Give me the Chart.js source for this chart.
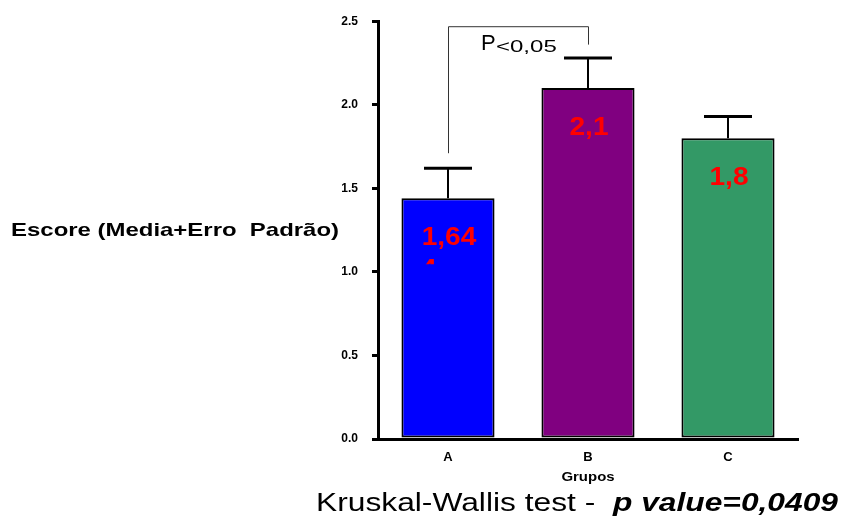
<!DOCTYPE html>
<html>
<head>
<meta charset="utf-8">
<script src="https://cdn.jsdelivr.net/npm/chart.js@4.4.1/dist/chart.umd.min.js"></script>
<style>
  html, body { margin: 0; padding: 0; background: #fff; }
  #wrap { width: 843px; height: 519px; }
</style>
</head>
<body>
<div id="wrap"><canvas id="chart" width="843" height="519"></canvas></div>
<script>
// scores per group (mean and mean + standard error)
const groups = ['A', 'B', 'C'];
const means = [1.44, 2.1, 1.8];
const errorTops = [1.62, 2.28, 1.93];
const barLabels = ['1,64', '2,1', '1,8'];
const barColors = ['#0000ff', '#800080', '#339966'];
const yTicks = [0, 0.5, 1.0, 1.5, 2.0, 2.5];
// A vs B bracket, in axis units: left foot, top, right foot
const bracket = [1.71, 2.47, 2.36];

const FONT = '"Liberation Sans", Arial, Helvetica, sans-serif';

// text drawn a bit wider than the font's natural width
function wideText(ctx, text, x, y, sx, align) {
  ctx.save();
  ctx.translate(x, y);
  ctx.scale(sx, 1);
  ctx.textAlign = align;
  ctx.fillText(text, 0, 0);
  ctx.restore();
}

const annotations = {
  id: 'annotations',
  afterDatasetsDraw(chart) {
    const ctx = chart.ctx;
    const x = chart.scales.x;
    const y = chart.scales.y;
    ctx.save();

    // error bars
    ctx.strokeStyle = '#000';
    groups.forEach((g, i) => {
      const cx = x.getPixelForValue(i);
      const top = y.getPixelForValue(errorTops[i]);
      const bar = y.getPixelForValue(means[i]);
      ctx.lineWidth = 2;
      ctx.beginPath();
      ctx.moveTo(cx, bar);
      ctx.lineTo(cx, top);
      ctx.stroke();
      ctx.lineWidth = 3;
      ctx.beginPath();
      ctx.moveTo(cx - 24, top);
      ctx.lineTo(cx + 24, top);
      ctx.stroke();
    });

    // bracket A-B
    const xa = x.getPixelForValue(0);
    const xb = x.getPixelForValue(1);
    ctx.lineWidth = 1;
    ctx.strokeStyle = '#333';
    ctx.beginPath();
    ctx.moveTo(xa + 0.5, y.getPixelForValue(bracket[0]));
    ctx.lineTo(xa + 0.5, y.getPixelForValue(bracket[1]) + 0.5);
    ctx.lineTo(xb + 0.5, y.getPixelForValue(bracket[1]) + 0.5);
    ctx.lineTo(xb + 0.5, y.getPixelForValue(bracket[2]));
    ctx.stroke();

    ctx.fillStyle = '#000';
    ctx.textBaseline = 'alphabetic';
    ctx.font = '22px ' + FONT;
    wideText(ctx, 'P', xa + 33, 50, 1, 'left');
    ctx.font = '16px ' + FONT;
    wideText(ctx, '<0,05', xa + 48, 51.5, 1.5, 'left');

    // value labels inside the bars
    ctx.fillStyle = '#ff0000';
    ctx.font = 'bold 26px ' + FONT;
    groups.forEach((g, i) => {
      const cx = x.getPixelForValue(i);
      wideText(ctx, barLabels[i], cx + 1, y.getPixelForValue(means[i]) + 47, 1.08, 'center');
    });

    // cut-off digit under the first label
    ctx.save();
    ctx.beginPath();
    ctx.rect(xa - 30, y.getPixelForValue(means[0]) + 58, 60, 8);
    ctx.clip();
    wideText(ctx, '4', xa - 27, y.getPixelForValue(means[0]) + 79, 1.08, 'left');
    ctx.restore();

    ctx.restore();
  },
  afterDraw(chart) {
    const ctx = chart.ctx;
    const x = chart.scales.x;
    ctx.save();
    ctx.fillStyle = '#000';

    ctx.textBaseline = 'middle';
    ctx.font = 'bold 19px ' + FONT;
    wideText(ctx, 'Escore (Media+Erro  Padrão)', 339, 231, 1.26, 'right');

    ctx.font = 'bold 13px ' + FONT;
    wideText(ctx, 'Grupos', x.getPixelForValue(1), 477, 1.15, 'center');

    // Kruskal-Wallis line, mixed styles
    ctx.textBaseline = 'alphabetic';
    const sx = 1.27;
    const plain = 'Kruskal-Wallis test -  ';
    const strong = 'p value=0,0409';
    ctx.font = 'bold italic 25px ' + FONT;
    const w2 = ctx.measureText(strong).width * sx;
    ctx.font = '25px ' + FONT;
    const w1 = ctx.measureText(plain).width * sx;
    const start = 838 - w1 - w2;
    wideText(ctx, plain, start, 511, sx, 'left');
    ctx.font = 'bold italic 25px ' + FONT;
    wideText(ctx, strong, start + w1, 511, sx, 'left');

    ctx.restore();
  }
};

new Chart(document.getElementById('chart'), {
  type: 'bar',
  data: {
    labels: groups,
    datasets: [{
      data: means,
      backgroundColor: barColors,
      borderColor: '#000',
      borderWidth: 2,
      borderSkipped: false,
      barPercentage: 0.665,
      categoryPercentage: 1,
    }]
  },
  options: {
    responsive: false,
    animation: false,
    layout: { padding: { left: 318, right: 45, top: 20, bottom: 50 } },
    plugins: {
      legend: { display: false },
      tooltip: { enabled: false },
    },
    scales: {
      x: {
        offset: true,
        grid: { display: false },
        border: { display: true, color: '#000', width: 3 },
        ticks: { color: '#000', padding: 3, font: { family: FONT, size: 13, weight: 'bold' } },
        afterFit: s => { s.height = 30; },
      },
      y: {
        min: 0,
        max: 2.5,
        afterBuildTicks: s => { s.ticks = yTicks.map(v => ({ value: v })); },
        grid: { drawOnChartArea: false, drawTicks: true, tickLength: 6, color: '#000', lineWidth: 3 },
        border: { display: true, color: '#000', width: 3 },
        ticks: {
          color: '#000',
          padding: 14,
          font: { family: FONT, size: 12, weight: 'bold' },
          callback: v => Number(v).toFixed(1),
        },
        afterFit: s => { s.width = 60; },
      }
    }
  },
  plugins: [annotations]
});
</script>
</body>
</html>
